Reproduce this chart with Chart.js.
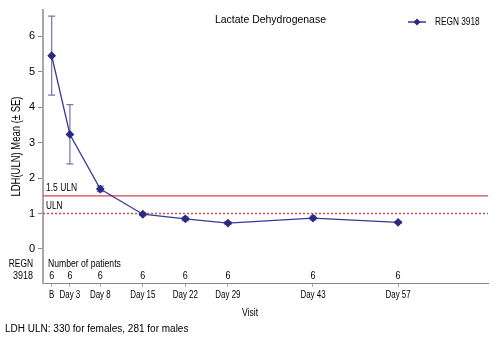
<!DOCTYPE html>
<html>
<head>
<meta charset="utf-8">
<script src="https://cdn.jsdelivr.net/npm/chart.js@4/dist/chart.umd.min.js"></script>
<style>
  html, body { margin: 0; padding: 0; background: #fff; }
  #wrap { width: 500px; height: 346px; }
</style>
</head>
<body>
<div id="wrap"><canvas id="ldhChart" width="500" height="346"></canvas></div>
<script>
// Data
const visitLabels = ["B", "Day 3", "Day 8", "Day 15", "Day 22", "Day 29", "Day 43", "Day 57"];
const visitDays = [0, 3, 8, 15, 22, 29, 43, 57];
const meanValues = [5.45, 3.23, 1.69, 0.98, 0.85, 0.73, 0.87, 0.75];
const seLower = [4.34, 2.40, 1.62, 0.94, 0.80, 0.69, 0.82, 0.72];
const seUpper = [6.57, 4.07, 1.77, 1.01, 0.90, 0.77, 0.93, 0.78];
const patientCounts = [6, 6, 6, 6, 6, 6, 6, 6];
const yTicks = [0, 1, 2, 3, 4, 5, 6];
const ulnLevel = 1;
const ulnHighLevel = 1.5;

const FONT = '"Liberation Sans", Arial, Helvetica, sans-serif';
const NAVY = "#2c2a80";
const LINE = "#3a3896";
const ERR = "#7472b4";
const RED = "#cc4a55";
const AXIS = "#a8a8a8";

const X_MIN = -1.43, X_MAX = 71.8;

// text squeezed horizontally by sx (condensed look)
function drawText(ctx, text, x, y, size, align, sx) {
  ctx.save();
  ctx.translate(x, y);
  ctx.scale(sx, 1);
  ctx.font = size + "px " + FONT;
  ctx.textAlign = align;
  ctx.textBaseline = "middle";
  ctx.fillStyle = "#000";
  ctx.fillText(text, 0, 0);
  ctx.restore();
}

// error bars under the markers
const errorBars = {
  id: "errorBars",
  beforeDatasetsDraw(chart) {
    const { ctx, scales: { x, y } } = chart;
    ctx.save();
    ctx.strokeStyle = ERR;
    ctx.lineWidth = 1.2;
    visitDays.forEach((d, i) => {
      const px = x.getPixelForValue(d);
      const top = y.getPixelForValue(seUpper[i]);
      const bot = y.getPixelForValue(seLower[i]);
      ctx.beginPath();
      ctx.moveTo(px, top); ctx.lineTo(px, bot);
      ctx.moveTo(px - 3.5, top); ctx.lineTo(px + 3.5, top);
      ctx.moveTo(px - 3.5, bot); ctx.lineTo(px + 3.5, bot);
      ctx.stroke();
    });
    ctx.restore();
  }
};

// titles, legend, visit labels, reference line labels, patient table, footnote
const annotations = {
  id: "annotations",
  afterDraw(chart) {
    const { ctx, chartArea, scales: { x, y } } = chart;

    drawText(ctx, "Lactate Dehydrogenase", 215, 20, 11, "left", 0.95);

    // legend
    ctx.save();
    ctx.strokeStyle = LINE;
    ctx.lineWidth = 1.5;
    ctx.beginPath(); ctx.moveTo(408, 22); ctx.lineTo(426, 22); ctx.stroke();
    ctx.fillStyle = NAVY;
    ctx.beginPath();
    ctx.moveTo(417, 18.5); ctx.lineTo(420.5, 22); ctx.lineTo(417, 25.5); ctx.lineTo(413.5, 22);
    ctx.closePath(); ctx.fill();
    ctx.restore();
    drawText(ctx, "REGN 3918", 435, 22, 11.5, "left", 0.72);

    // reference line labels
    drawText(ctx, "1.5 ULN", chartArea.left + 3, y.getPixelForValue(ulnHighLevel) - 8, 11, "left", 0.77);
    drawText(ctx, "ULN", chartArea.left + 3, y.getPixelForValue(ulnLevel) - 8, 11, "left", 0.75);

    // y axis title
    ctx.save();
    ctx.translate(17, (chartArea.top + chartArea.bottom) / 2);
    ctx.rotate(-Math.PI / 2);
    drawText(ctx, "LDH(ULN) Mean (\u00b1 SE)", 0, 0, 12, "center", 0.79);
    ctx.restore();

    // visit labels under the x ticks
    visitDays.forEach((d, i) => {
      drawText(ctx, visitLabels[i], x.getPixelForValue(d), 295, 11.5, "center", 0.69);
    });

    // number of patients
    drawText(ctx, "Number of patients", chartArea.left + 5, 264, 11.5, "left", 0.75);
    drawText(ctx, "REGN", 33, 264, 11.5, "right", 0.73);
    drawText(ctx, "3918", 33, 276, 11.5, "right", 0.78);
    visitDays.forEach((d, i) => {
      drawText(ctx, String(patientCounts[i]), x.getPixelForValue(d), 276, 11, "center", 0.82);
    });

    // x axis title and footnote
    drawText(ctx, "Visit", 250, 313, 11, "center", 0.78);
    drawText(ctx, "LDH ULN: 330 for females, 281 for males", 5, 329, 10, "left", 1);
  }
};

new Chart(document.getElementById("ldhChart"), {
  type: "line",
  data: {
    datasets: [
      {
        label: "REGN 3918",
        data: visitDays.map((d, i) => ({ x: d, y: meanValues[i] })),
        borderColor: LINE,
        borderWidth: 1.3,
        backgroundColor: NAVY,
        pointBackgroundColor: NAVY,
        pointBorderColor: NAVY,
        pointStyle: "rectRot",
        pointRadius: 3.5,
        tension: 0,
        order: 0,
      },
      {
        label: "1.5 ULN",
        data: [{ x: X_MIN, y: ulnHighLevel }, { x: X_MAX, y: ulnHighLevel }],
        borderColor: RED,
        borderWidth: 1.3,
        pointRadius: 0,
        order: 2,
      },
      {
        label: "ULN",
        data: [{ x: X_MIN, y: ulnLevel }, { x: X_MAX, y: ulnLevel }],
        borderColor: RED,
        borderWidth: 1.3,
        borderDash: [2, 2],
        pointRadius: 0,
        order: 2,
      },
    ],
  },
  options: {
    responsive: false,
    animation: false,
    layout: { padding: { top: 10, right: 12, left: 0, bottom: 0 } },
    plugins: { legend: { display: false }, tooltip: { enabled: false } },
    scales: {
      x: {
        type: "linear",
        min: X_MIN,
        max: X_MAX,
        afterBuildTicks: (scale) => {
          scale.ticks = visitDays.map((v) => ({ value: v }));
        },
        afterFit: (scale) => { scale.height = 63; },
        ticks: { display: false, autoSkip: false },
        grid: { drawOnChartArea: false, drawTicks: true, tickLength: 4, color: AXIS },
        border: { color: "#888", width: 1 },
      },
      y: {
        min: -0.96,
        max: 6.74,
        afterBuildTicks: (scale) => {
          scale.ticks = yTicks.map((v) => ({ value: v }));
        },
        afterFit: (scale) => { scale.width = 43; },
        ticks: {
          padding: 3,
          color: "#000",
          font: { family: FONT, size: 11 },
        },
        grid: { drawOnChartArea: false, drawTicks: true, tickLength: 5, color: "#888" },
        border: { color: AXIS, width: 2 },
      },
    },
  },
  plugins: [errorBars, annotations],
});
</script>
</body>
</html>
